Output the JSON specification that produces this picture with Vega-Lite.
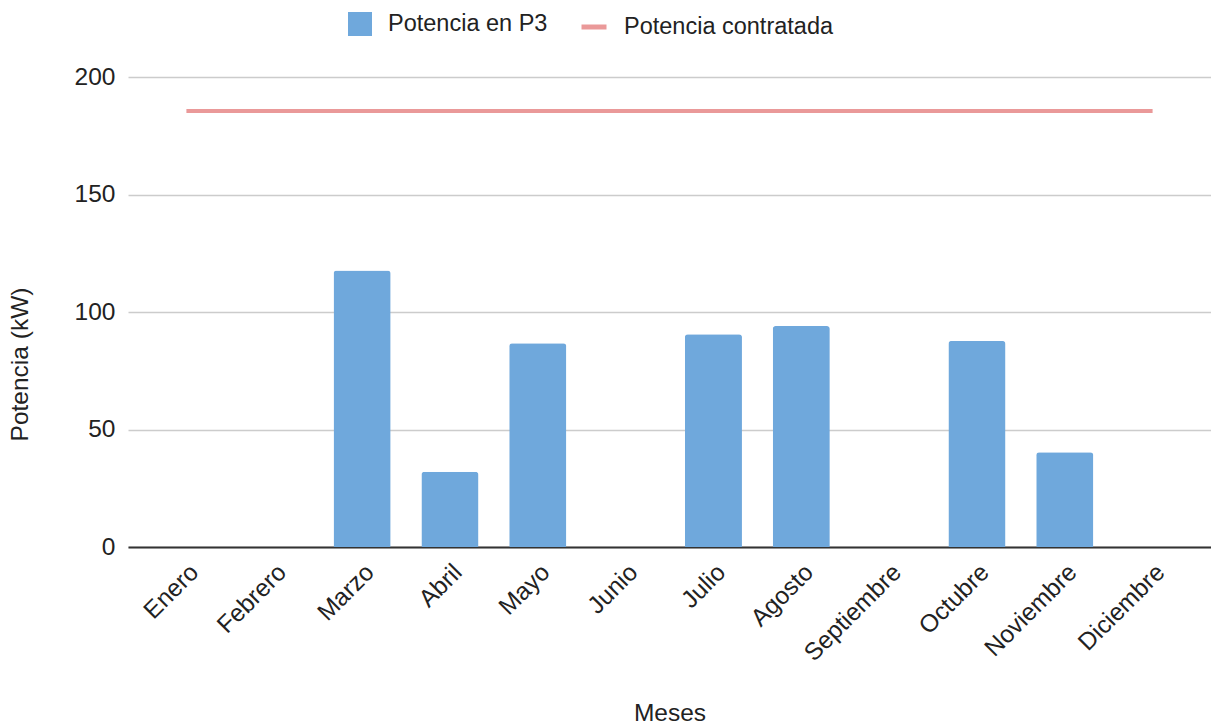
{
  "$schema": "https://vega.github.io/schema/vega-lite/v6.json",
  "width": 1083,
  "height": 470,
  "autosize": {"type": "none"},
  "padding": {"left": 128, "top": 77, "right": 0, "bottom": 179},
  "background": "white",
  "config": {
    "view": {"stroke": null},
    "font": "Liberation Sans",
    "axis": {
      "labelFont": "Liberation Sans",
      "titleFont": "Liberation Sans",
      "labelColor": "#222222",
      "titleColor": "#222222",
      "titleFontWeight": "normal",
      "ticks": false
    },
    "legend": {
      "labelFont": "Liberation Sans",
      "labelColor": "#222222",
      "labelFontSize": 23.5,
      "labelLimit": 0
    }
  },
  "data": {
    "values": [
      {"mes": "Enero", "p3": 0, "contratada": 185.5},
      {"mes": "Febrero", "p3": 0, "contratada": 185.5},
      {"mes": "Marzo", "p3": 117.7, "contratada": 185.5},
      {"mes": "Abril", "p3": 32.0, "contratada": 185.5},
      {"mes": "Mayo", "p3": 86.7, "contratada": 185.5},
      {"mes": "Junio", "p3": 0, "contratada": 185.5},
      {"mes": "Julio", "p3": 90.5, "contratada": 185.5},
      {"mes": "Agosto", "p3": 94.0, "contratada": 185.5},
      {"mes": "Septiembre", "p3": 0, "contratada": 185.5},
      {"mes": "Octubre", "p3": 87.7, "contratada": 185.5},
      {"mes": "Noviembre", "p3": 40.3, "contratada": 185.5},
      {"mes": "Diciembre", "p3": 0, "contratada": 185.5}
    ]
  },
  "encoding": {
    "x": {
      "field": "mes",
      "type": "nominal",
      "sort": null,
      "scale": {"paddingInner": 0.35, "paddingOuter": 0.34},
      "axis": {
        "title": "Meses",
        "titleFontSize": 24.5,
        "titleY": 166,
        "titleBaseline": "middle",
        "labelFontSize": 24.5,
        "labelAngle": -45,
        "labelPadding": 13,
        "domainColor": "#333333",
        "domainWidth": 2,
        "grid": false
      }
    }
  },
  "layer": [
    {
      "mark": {"type": "bar", "cornerRadiusTopLeft": 3, "cornerRadiusTopRight": 3},
      "encoding": {
        "y": {
          "field": "p3",
          "type": "quantitative",
          "scale": {"domain": [0, 200], "nice": false},
          "axis": {
            "title": "Potencia (kW)",
            "titleFontSize": 24.5,
            "titleX": -108,
            "titleY": 287,
            "titleBaseline": "middle",
            "values": [0, 50, 100, 150, 200],
            "labelFontSize": 24.5,
            "labelPadding": 13,
            "domain": false,
            "gridColor": "#cccccc",
            "gridWidth": 1.5
          }
        },
        "color": {
          "datum": "Potencia en P3",
          "type": "nominal",
          "scale": {"domain": ["Potencia en P3"], "range": ["#6fa8dc"]},
          "legend": {
            "title": null,
            "orient": "none",
            "legendX": 220,
            "legendY": -65,
            "symbolType": "square",
            "symbolSize": 576,
            "symbolStrokeWidth": 0,
            "labelOffset": 16
          }
        }
      }
    },
    {
      "mark": {"type": "line", "strokeWidth": 4},
      "encoding": {
        "y": {"field": "contratada", "type": "quantitative"},
        "stroke": {
          "datum": "Potencia contratada",
          "type": "nominal",
          "scale": {"domain": ["Potencia contratada"], "range": ["#ea9999"]},
          "legend": {
            "title": null,
            "orient": "none",
            "legendX": 451,
            "legendY": -65,
            "symbolType": "stroke",
            "symbolSize": 625,
            "symbolStrokeWidth": 5,
            "labelOffset": 15
          }
        }
      }
    }
  ]
}
